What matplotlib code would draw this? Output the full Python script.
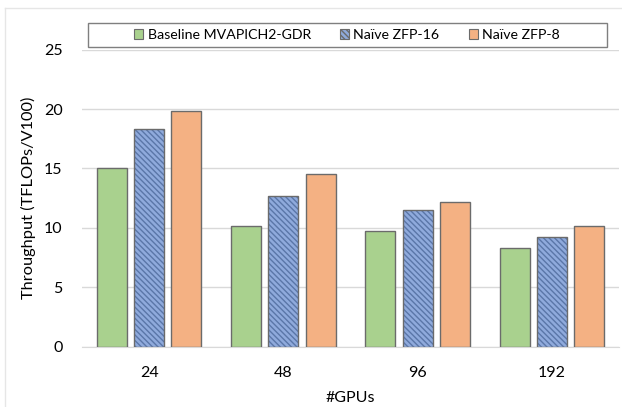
import numpy as np
import matplotlib
matplotlib.use("Agg")
import matplotlib.pyplot as plt
from matplotlib.patches import Patch, Rectangle
from matplotlib.lines import Line2D

plt.rcParams['font.family'] = ['Lato', 'DejaVu Sans']

gpus = ['24', '48', '96', '192']
baseline = [15.0, 10.2, 9.7, 8.3]
zfp16 = [18.3, 12.7, 11.5, 9.2]
zfp8 = [19.8, 14.5, 12.2, 10.2]

series = [
    ('Baseline MVAPICH2-GDR', baseline, '#A9D18E', '#B8DA9F', ''),
    ('Naïve ZFP-16', zfp16, '#8FAADC', '#5A76A8', '\\\\\\\\\\\\'),
    ('Naïve ZFP-8', zfp8, '#F4B183', '#F7C29C', ''),
]

fig = plt.figure(figsize=(6.22, 4.07), dpi=100)
ax = fig.add_axes([0.132, 0.148, 0.863, 0.730])

x = np.arange(len(gpus))
w = 0.223
step = 0.277
for i, (name, vals, col, hcol, hatch) in enumerate(series):
    pos = x + (i - 1) * step
    ax.bar(pos, vals, w, color=col, edgecolor=hcol, hatch=hatch, linewidth=0, zorder=2)
    ax.bar(pos, vals, w, color='none', edgecolor='#6b6b6b', linewidth=1.0, zorder=3)

ax.set_xlim(-0.5, 3.5)
ax.set_ylim(0, 25)
ax.set_yticks([0, 5, 10, 15, 20, 25])
ax.set_xticks(x)
ax.set_xticklabels(gpus)
ax.tick_params(length=0, labelsize=11.5, colors='black', pad=14)
ax.grid(axis='y', color='#d9d9d9', linewidth=1.0, zorder=0)
for s in ['top', 'right', 'left']:
    ax.spines[s].set_visible(False)
ax.spines['bottom'].set_color('#d9d9d9')
ax.set_ylabel('Throughput (TFLOPs/V100)', fontsize=11.8, labelpad=6)
ax.set_xlabel('#GPUs', fontsize=11.5, labelpad=8)

# legend box spanning the plot width, entries centred inside
bx0, by0, bw, bh = 87.5 / 622, 1 - 46.7 / 407, 519 / 622, 23.4 / 407
fig.add_artist(Rectangle((bx0, by0), bw, bh, transform=fig.transFigure,
                         facecolor='white', edgecolor='#7f7f7f', lw=1.0, zorder=5))
handles = [Patch(facecolor=c, edgecolor='#6b6b6b', hatch=h, linewidth=0.8, label=n)
           for n, v, c, hc, h in series]
leg = fig.legend(handles=handles, ncol=3, loc='center',
                 bbox_to_anchor=(bx0, by0, bw, bh),
                 fontsize=10.2, frameon=False,
                 handlelength=0.65, handleheight=0.65, handletextpad=0.3,
                 columnspacing=2.05, borderaxespad=0, borderpad=0.0)
leg.set_zorder(6)

# faint chart-area border
fig.add_artist(Line2D([5 / 622, 5 / 622], [0, 1 - 8 / 407], color='#e6e6e6', lw=1))
fig.add_artist(Line2D([5 / 622, 1], [1 - 8 / 407, 1 - 8 / 407], color='#e6e6e6', lw=1))

fig.savefig('out.png', dpi=100)
